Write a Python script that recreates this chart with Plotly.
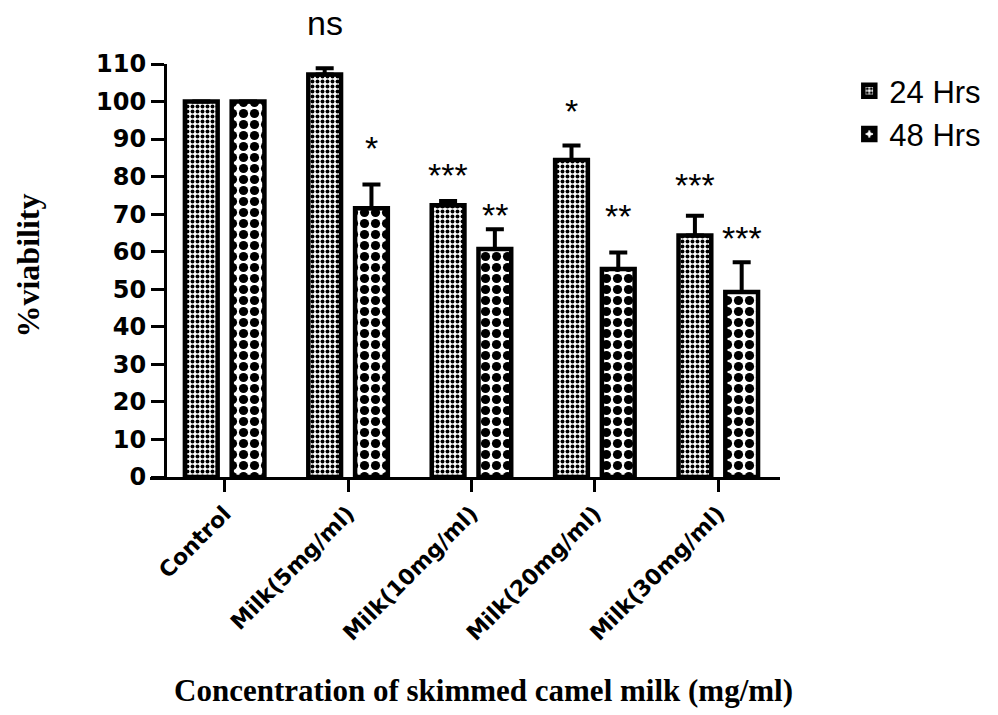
import plotly.graph_objects as go

categories = ["Control", "Milk(5mg/ml)", "Milk(10mg/ml)", "Milk(20mg/ml)", "Milk(30mg/ml)"]
viability_24h = [100, 107.2, 72.4, 84.4, 64.3]
error_24h = [0, 1.7, 1.1, 3.9, 5.3]
viability_48h = [100, 71.6, 60.7, 55.4, 49.3]
error_48h = [0, 6.3, 5.3, 4.4, 7.9]

y_max = 110

# significance labels: (category, series, label, label height in data units)
sig_cats = ["Milk(5mg/ml)", "Milk(5mg/ml)", "Milk(10mg/ml)", "Milk(10mg/ml)",
            "Milk(20mg/ml)", "Milk(20mg/ml)", "Milk(30mg/ml)", "Milk(30mg/ml)"]
sig_series = ["24", "48", "24", "48", "24", "48", "24", "48"]
sig_text = ["ns", "*", "***", "**", "*", "**", "***", "***"]
sig_y = [120.4, 88.4, 81.2, 70.6, 98.3, 70.3, 78.5, 64.4]

fig = go.Figure()
fig.add_trace(go.Bar(
    name="24 Hrs", x=categories, y=viability_24h,
    error_y=dict(type="data", array=error_24h, arrayminus=[0]*5, symmetric=False,
                 color="black", thickness=4, width=9),
    marker=dict(color="white", line=dict(color="black", width=4.5),
                pattern=dict(shape=".", fgcolor="black", bgcolor="white",
                             size=5, solidity=0.5, fillmode="replace")),
))
fig.add_trace(go.Bar(
    name="48 Hrs", x=categories, y=viability_48h,
    error_y=dict(type="data", array=error_48h, arrayminus=[0]*5, symmetric=False,
                 color="black", thickness=4, width=9),
    marker=dict(color="white", line=dict(color="black", width=4.5),
                pattern=dict(shape=".", fgcolor="black", bgcolor="white",
                             size=11, solidity=0.55, fillmode="replace")),
))

annotations = []
for c, s, t, yv in zip(sig_cats, sig_series, sig_text, sig_y):
    annotations.append(dict(
        x=c, y=yv / y_max, xref="x", yref="y domain", text=t, showarrow=False,
        xshift=-23.5 if s == "24" else 23.5,
        yshift=-3 if t != "ns" else 2,
        yanchor="middle",
        font=dict(family="Liberation Sans, Arial", size=34, color="black"),
    ))

# axis titles
annotations.append(dict(
    x=0.529, y=-0.516, xref="paper", yref="paper", showarrow=False,
    text="<b>Concentration of skimmed camel milk (mg/ml)</b>",
    font=dict(family="Liberation Serif, Times New Roman", size=31, color="black"),
    xanchor="center", yanchor="middle",
))
annotations.append(dict(
    x=-0.193, y=0.513, xref="paper", yref="paper", showarrow=False,
    text="<b>%viability</b>", textangle=-90,
    font=dict(family="Liberation Serif, Times New Roman", size=32, color="black"),
    xanchor="center", yanchor="middle",
))

fig.update_layout(
    width=998, height=715,
    margin=dict(l=150, r=215, t=64, b=238),
    paper_bgcolor="white", plot_bgcolor="white",
    barmode="group", bargap=0.242, bargroupgap=0.30,
    showlegend=True,
    legend=dict(x=1.11, y=1.0, xanchor="left", yanchor="top",
                font=dict(family="Liberation Sans, Arial", size=31, color="black"),
                bgcolor="rgba(0,0,0,0)", tracegroupgap=0),
    annotations=annotations,
    xaxis=dict(
        type="category", range=[-0.605, 4.5],
        showline=True, linecolor="black", linewidth=3,
        ticks="outside", ticklen=12, tickwidth=3, tickcolor="black",
        tickangle=-45, showgrid=False, zeroline=False,
        tickfont=dict(family="DejaVu Sans", size=22, color="black", weight="bold"),
    ),
    yaxis=dict(
        range=[0, y_max], dtick=10, anchor="free", position=0.0237,
        showline=True, linecolor="black", linewidth=3,
        ticks="outside", ticklen=13, tickwidth=3, tickcolor="black",
        showgrid=False, zeroline=False,
        tickfont=dict(family="DejaVu Sans", size=24, color="black", weight="bold"),
    ),
)

fig.write_html("out.html")
